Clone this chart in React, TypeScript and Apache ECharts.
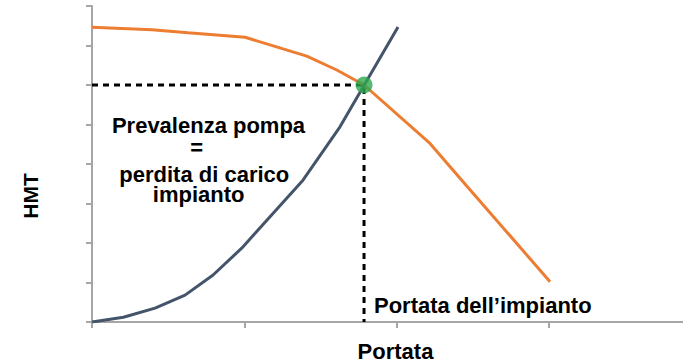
import React, { useEffect, useRef } from "react";
import * as echarts from "echarts";

// Pump curve (prevalenza pompa)
const pumpFlow = [0, 0.394, 0.63, 1.005, 1.41, 1.607, 1.786, 2.219, 2.416, 3.007];
const pumpHead = [7.46, 7.4, 7.32, 7.21, 6.73, 6.38, 6.0, 4.52, 3.64, 1.02];

// System curve (perdita di carico impianto)
const systemFlow = [0, 0.206, 0.414, 0.611, 0.795, 0.983, 1.385, 1.628, 2.009];
const systemHead = [0, 0.12, 0.35, 0.68, 1.19, 1.87, 3.59, 4.94, 7.47];

// Operating point
const operatingFlow = 1.786;
const operatingHead = 6.0;

const xTicks = [0, 1, 2, 3];
const yTicks = [0, 1, 2, 3, 4, 5, 6, 7, 8];

const FONT = '"Liberation Sans", Arial, sans-serif';

export default function App() {
  const ref = useRef<HTMLDivElement>(null);

  useEffect(() => {
    if (!ref.current) return;
    const chart = echarts.init(ref.current, undefined, { renderer: "svg" });
    const axisStyle = { lineStyle: { color: "#a6a6a6", width: 2 } };
    const txt = (text: string, x: number, y: number, align: string, size = 22, rotation = 0) => ({
      type: "text",
      x,
      y,
      rotation,
      z: 100,
      style: {
        text,
        font: `bold ${size}px ${FONT}`,
        fill: "#000000",
        align,
        textAlign: align,
        verticalAlign: "middle",
        textVerticalAlign: "middle",
      },
    });
    chart.setOption({
      animation: false,
      backgroundColor: "#ffffff",
      grid: { left: 92, top: 6, right: 0, bottom: 40 },
      xAxis: {
        type: "value",
        min: 0,
        max: 3.88,
        interval: 1,
        axisLine: { show: true, ...axisStyle },
        axisTick: { show: true, length: 6, lineStyle: { color: "#a6a6a6", width: 2 }, customValues: xTicks },
        axisLabel: { show: false },
        splitLine: { show: false },
      },
      yAxis: {
        type: "value",
        min: 0,
        max: 8,
        interval: 1,
        axisLine: { show: true, ...axisStyle },
        axisTick: { show: true, length: 6, lineStyle: { color: "#a6a6a6", width: 2 }, customValues: yTicks },
        axisLabel: { show: false },
        splitLine: { show: false },
      },
      series: [
        {
          type: "line",
          data: [
            [0, operatingHead],
            [operatingFlow, operatingHead],
            [operatingFlow, 0],
          ],
          symbol: "none",
          lineStyle: { color: "#000000", width: 3, type: [6, 5] },
          z: 2,
        },
        {
          type: "line",
          data: pumpFlow.map((x, i) => [x, pumpHead[i]]),
          symbol: "none",
          lineStyle: { color: "#ed7d31", width: 3 },
          z: 3,
        },
        {
          type: "line",
          data: systemFlow.map((x, i) => [x, systemHead[i]]),
          symbol: "none",
          lineStyle: { color: "#44546a", width: 3 },
          z: 3,
        },
        {
          type: "scatter",
          data: [[operatingFlow, operatingHead]],
          symbolSize: 17,
          itemStyle: { color: "#2ea84f" },
          z: 5,
        },
      ],
      graphic: [
        txt("Prevalenza pompa", 208.5, 125.7, "center"),
        txt("=", 196.7, 147.4, "center"),
        txt("perdita di carico", 204.3, 174, "center"),
        txt("impianto", 198.7, 194, "center"),
        txt("Portata dell\u2019impianto", 374, 305.4, "left"),
        txt("Portata", 395.5, 351.4, "center"),
        txt("HMT", 30.4, 196, "center", 21, Math.PI / 2),
      ],
    });
    return () => chart.dispose();
  }, []);

  return (
    <div
      ref={ref}
      style={{ position: "fixed", left: 0, top: 0, width: 683, height: 362 }}
    />
  );
}
